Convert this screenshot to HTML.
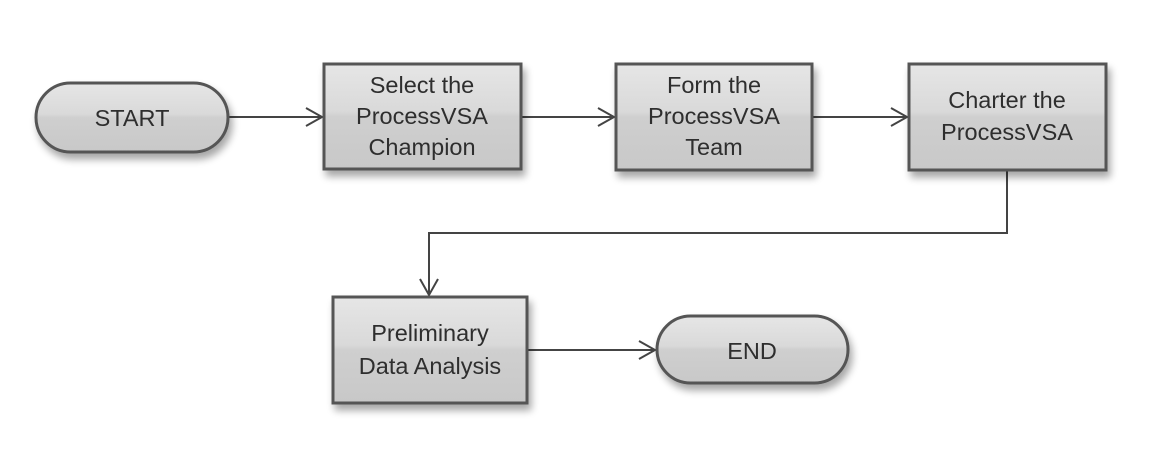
<!DOCTYPE html>
<html>
<head>
<meta charset="utf-8">
<style>
  html, body { margin: 0; padding: 0; background: #ffffff; }
  svg { display: block; }
  text { font-family: "Liberation Sans", "DejaVu Sans", sans-serif; font-size: 23.5px; fill: #2e2e2e; text-anchor: middle; }
</style>
</head>
<body>
<svg width="1158" height="474" viewBox="0 0 1158 474" xmlns="http://www.w3.org/2000/svg">
  <defs>
    <linearGradient id="g" x1="0" y1="0" x2="0" y2="1">
      <stop offset="0" stop-color="#e6e6e6"/>
      <stop offset="0.45" stop-color="#d9d9d9"/>
      <stop offset="0.5" stop-color="#cfcfcf"/>
      <stop offset="1" stop-color="#c8c8c8"/>
    </linearGradient>
    <filter id="sh" x="-20%" y="-20%" width="150%" height="160%">
      <feGaussianBlur in="SourceAlpha" stdDeviation="4"/>
      <feOffset dx="3" dy="6" result="b"/>
      <feComponentTransfer><feFuncA type="linear" slope="0.35"/></feComponentTransfer>
      <feMerge><feMergeNode/><feMergeNode in="SourceGraphic"/></feMerge>
    </filter>
  </defs>

  <!-- connectors -->
  <g stroke="#444" stroke-width="2" fill="none">
    <line x1="228" y1="117" x2="322" y2="117"/>
    <polyline points="306,108 322,117 306,126"/>
    <line x1="522" y1="117" x2="614" y2="117"/>
    <polyline points="598,108 614,117 598,126"/>
    <line x1="813" y1="117" x2="907" y2="117"/>
    <polyline points="891,108 907,117 891,126"/>
    <polyline points="1007,170 1007,233 429,233 429,295"/>
    <polyline points="420,279 429,295 438,279"/>
    <line x1="528" y1="350" x2="655" y2="350"/>
    <polyline points="639,341 655,350 639,359"/>
  </g>

  <!-- shapes -->
  <g stroke="#555" stroke-width="3" fill="url(#g)" filter="url(#sh)">
    <rect x="36" y="83" width="192" height="69" rx="34.5" ry="34.5"/>
    <rect x="324" y="64" width="197" height="105"/>
    <rect x="616" y="64" width="196" height="106"/>
    <rect x="909" y="64" width="197" height="106"/>
    <rect x="333" y="297" width="194" height="106"/>
    <rect x="657" y="316" width="191" height="67" rx="33.5" ry="33.5"/>
  </g>

  <!-- labels -->
  <text x="132" y="126">START</text>

  <text x="422" y="93">Select the</text>
  <text x="422" y="124">ProcessVSA</text>
  <text x="422" y="155">Champion</text>

  <text x="714" y="93">Form the</text>
  <text x="714" y="124">ProcessVSA</text>
  <text x="714" y="155">Team</text>

  <text x="1007" y="108">Charter the</text>
  <text x="1007" y="140">ProcessVSA</text>

  <text x="430" y="341">Preliminary</text>
  <text x="430" y="374">Data Analysis</text>

  <text x="752" y="359">END</text>
</svg>
</body>
</html>
